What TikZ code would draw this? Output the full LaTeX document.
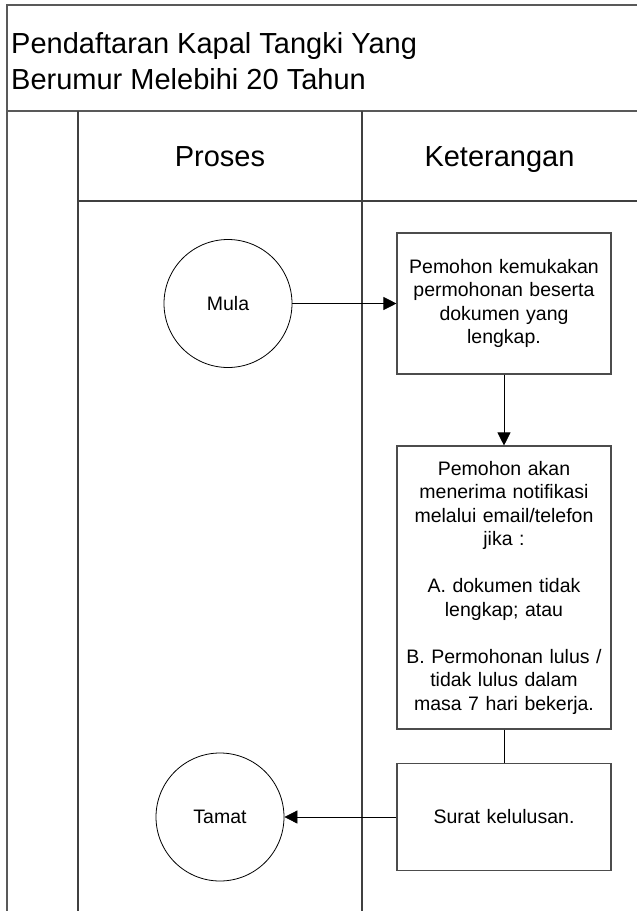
\documentclass[tikz,border=0pt]{standalone}
\usepackage{fontspec}
\setmainfont{Liberation Sans}
\usetikzlibrary{arrows.meta, positioning}
\tikzset{
  lanerule/.style={line width=1.2pt, color=black!75},
  laneframe/.style={line width=1.6pt, color=black!65},
  stepbox/.style={
    rectangle, draw=black!70, line width=1.1pt,
    minimum width=214pt, text width=206pt, inner sep=4pt,
    align=center, font=\fontsize{19.5}{23.5}\selectfont
  },
  endpoint/.style={
    circle, draw=black, line width=0.8pt,
    minimum size=128pt, inner sep=0pt,
    font=\fontsize{19.5}{23.5}\selectfont
  },
  headtext/.style={font=\fontsize{29}{36}\selectfont, inner sep=0pt},
  flowarrow/.style={-{Triangle[length=13pt,width=13pt]}, line width=0.8pt},
  flowline/.style={line width=0.8pt},
}

\begin{document}
\begin{tikzpicture}[x=1pt, y=-1pt]
  \useasboundingbox (0,0) rectangle (637,911);

  % swimlane frame
  \coordinate (topL) at (7,5);
  \coordinate (topR) at (637,5);
  \coordinate (sepL) at (7,111);
  \coordinate (sepR) at (637,111);
  \coordinate (botL) at (7,911);
  \coordinate (laneA) at (78,111);
  \coordinate (laneAbot) at (78,911);
  \coordinate (laneB) at (362,111);
  \coordinate (laneBbot) at (362,911);
  \coordinate (headL) at (78,201);
  \coordinate (headR) at (637,201);

  \draw[laneframe] (topR) -- (topL) -- (botL);
  \draw[laneframe] (sepL) -- (sepR);
  \draw[lanerule] (laneA) -- (laneAbot);
  \draw[lanerule] (laneB) -- (laneBbot);
  \draw[lanerule] (headL) -- (headR);

  % titles
  \node[headtext, anchor=west, align=left] (title) at (11,61)
    {Pendaftaran Kapal Tangki Yang\\Berumur Melebihi 20 Tahun};
  \node[headtext, anchor=base] (proses) at (220,166) {Proses};
  \node[headtext, anchor=base] (ket) at (499.5,166) {Keterangan};

  % flow
  \node[endpoint] (mula) at (228,303.5) {Mula};
  \node[stepbox, minimum height=141pt] (mohon) at (504,303.5)
    {Pemohon kemukakan\\permohonan beserta\\dokumen yang\\lengkap.};
  \node[stepbox, minimum height=283pt] (notis) at (504,587.5)
    {Pemohon akan\\menerima notifikasi\\melalui email/telefon\\jika :\\[23.5pt]
     A. dokumen tidak\\lengkap; atau\\[23.5pt]
     B. Permohonan lulus /\\tidak lulus dalam\\masa 7 hari bekerja.};
  \node[stepbox, minimum height=107pt] (surat) at (504,817)
    {Surat kelulusan.};
  \node[endpoint] (tamat) at (220,817) {Tamat};

  \draw[flowarrow] (mula) -- (mohon);
  \draw[flowarrow] (mohon) -- (notis);
  \draw[flowline] (notis) -- (surat);
  \draw[flowarrow] (surat) -- (tamat);
\end{tikzpicture}
\end{document}
